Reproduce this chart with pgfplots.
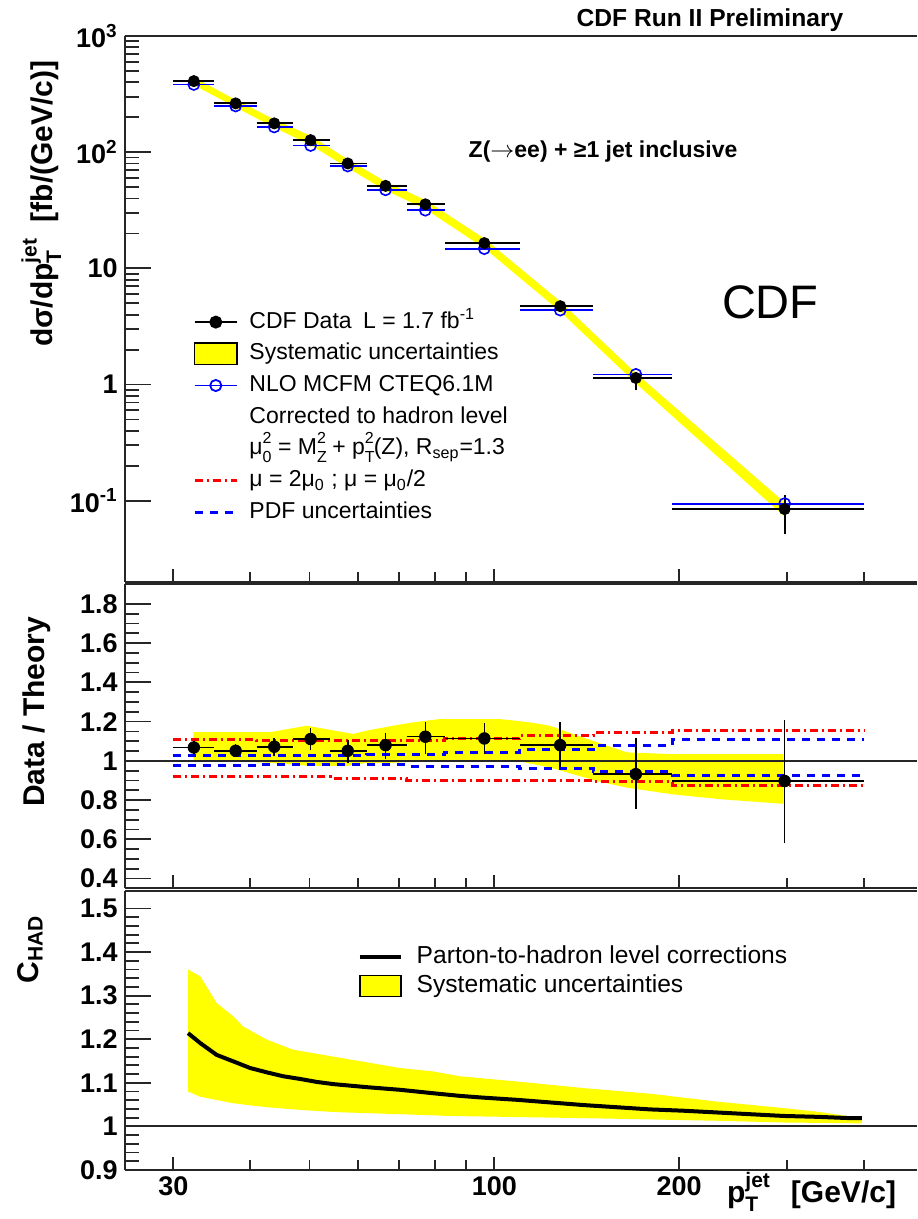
\documentclass[border=0pt]{standalone}
\usepackage{pgfplots}
\pgfplotsset{compat=1.18}
\usepackage{fontspec}
\setmainfont{Liberation Sans}
\definecolor{ryellow}{RGB}{255,255,0}
\definecolor{rred}{RGB}{255,0,0}
\definecolor{rblue}{RGB}{0,0,255}
\newcommand{\spsb}[3]{#1\rlap{\raisebox{-0.3em}{\fontsize{10.5}{0}\selectfont #3}}\raisebox{0.52em}{\fontsize{10.5}{0}\selectfont #2}}
\newcommand{\spsl}[3]{#1\rlap{\raisebox{-0.32em}{\fontsize{8}{0}\selectfont #3}}\raisebox{0.48em}{\fontsize{8}{0}\selectfont #2}}

\pgfplotsset{
  legend image code/.code={\draw[mark repeat=2,mark phase=2,#1] plot coordinates {(0pt,0pt) (10.6pt,0pt) (21.2pt,0pt)};},
  mybox legend/.style={legend image code/.code={\draw[##1] (0pt,-5.4pt) rectangle (21.2pt,5.4pt);}},
  mybox2 legend/.style={legend image code/.code={\draw[##1] (0pt,-5.25pt) rectangle (20.5pt,5.25pt);}},
  myline legend/.style={legend image code/.code={\draw[##1] (0pt,0pt) -- (20.5pt,0pt);}},
  every axis/.append style={
    scale only axis, width=396.15pt,
    xmin=25, xmax=487.9,
    axis y line*=left,
    axis line style={-, line width=1pt, black!85},
    xtick={30,100,200}, minor xtick={40,50,60,70,80,90,300,400},
    xtick pos=left, ytick pos=left, tick align=inside,
    major tick length=13pt, minor tick length=7pt,
    xtick style={/pgfplots/major tick length=6.5pt, /pgfplots/minor tick length=5pt},
    tick style={black!85, line width=0.9pt},
    tick label style={font=\bfseries\fontsize{13.5}{16}\selectfont},
    every axis label/.append style={font=\bfseries\fontsize{15}{18}\selectfont, inner sep=0pt},
    clip=false,
    unbounded coords=jump,
  },
}

\begin{document}
\begin{tikzpicture}
\path[use as bounding box] (0,0) rectangle (458.5pt,-609.5pt);

% ---------------- top panel ----------------
\begin{axis}[xmode=log, ymode=log, at={(62.35pt,-18pt)}, anchor=north west, height=273pt,
  ymin=0.02, ymax=1000,
  ytick={0.1,1,10,100,1000},
  yticklabels={10\textsuperscript{-1},1,10,10\textsuperscript{2},10\textsuperscript{3}},
  xticklabels={},
  ylabel={dσ/d\spsb{p}{jet}{T}\hspace{0.55em}[fb/(GeV/c)]},
  ylabel style={at={(axis description cs:-0.131,0.956)}, anchor=north east},
  legend style={at={(axis description cs:0.0858,0.4987)}, anchor=north west, draw=none, fill=none,
    inner sep=0pt, row sep=3.85pt, column sep=5.5pt, font=\fontsize{11.5}{13.8}\selectfont,
    nodes={inner sep=0pt, text height=9pt, text depth=3pt}},
  legend cell align=left,
]
% systematic band
\addplot[fill=ryellow, draw=none, forget plot] coordinates {
 (32.4,439.7) (37.9,282.7) (43.8,191.2) (50.2,138.4) (57.7,86.8) (66.5,55.7) (77.2,38.8) (96.3,18.07) (128,5.20) (170,1.254) (297,0.0967)
 (297,0.0729) (170,1.026) (128,4.26) (96.3,14.93) (77.2,32.4) (66.5,46.9) (57.7,73.2) (50.2,115.6) (43.8,162.8) (37.9,243.3) (32.4,378.3)};
% theory: bin widths and points
\addplot[rblue, line width=0.9pt, forget plot] coordinates {
 (30,383) (35,383) (32,nan) (35,250) (41,250) (38,nan) (41,165) (47,165) (44,nan) (47,114.3) (54,114.3) (50,nan)
 (54,76.1) (62,76.1) (58,nan) (62,47.5) (72,47.5) (66,nan) (72,31.7) (83,31.7) (77,nan) (83,14.8) (110,14.8) (96,nan)
 (110,4.38) (145,4.38) (128,nan) (145,1.223) (195,1.223) (170,nan) (195,0.0945) (400,0.0945)};
\addplot[rblue, only marks, mark=o, mark size=2.8pt, mark options={line width=0.8pt}, forget plot] coordinates {
 (32.4,383) (37.9,250) (43.8,165) (50.2,114.3) (57.7,76.1) (66.5,47.5) (77.2,31.7) (96.3,14.8) (128,4.38) (170,1.223) (297,0.0945)};
% data: bin widths, error bars, points
\addplot[black, line width=0.9pt, forget plot] coordinates {
 (30,409) (35,409) (32,nan) (35,263) (41,263) (38,nan) (41,177) (47,177) (44,nan) (47,127) (54,127) (50,nan)
 (54,80) (62,80) (58,nan) (62,51.3) (72,51.3) (66,nan) (72,35.6) (83,35.6) (77,nan) (83,16.5) (110,16.5) (96,nan)
 (110,4.73) (145,4.73) (128,nan) (145,1.14) (195,1.14) (170,nan) (195,0.0848) (400,0.0848)};
\addplot[black, line width=0.9pt, forget plot] coordinates {
 (32.4,395.5) (32.4,422.5) (32.4,nan) (37.9,256.7) (37.9,271.8) (37.9,nan) (43.8,169.4) (43.8,184.3) (43.8,nan)
 (50.2,120.6) (50.2,133.5) (50.2,nan) (57.7,75.4) (57.7,84.2) (57.7,nan) (66.5,47.9) (66.5,54.2) (66.5,nan)
 (77.2,32.8) (77.2,38.0) (77.2,nan) (96.3,15.32) (96.3,17.67) (96.3,nan) (128,4.23) (128,5.26) (128,nan)
 (170,0.89) (170,1.29) (170,nan) (297,0.0518) (297,0.1118)};
\addplot[black, only marks, mark=*, mark size=2.8pt, forget plot] coordinates {
 (32.4,409) (37.9,263) (43.8,177) (50.2,127) (57.7,80) (66.5,51.3) (77.2,35.6) (96.3,16.5) (128,4.73) (170,1.14) (297,0.0848)};

\addlegendimage{black, line width=0.9pt, mark=*, mark size=2.8pt}
\addlegendentry{CDF Data\enspace L = 1.7 fb\textsuperscript{-1}}
\addlegendimage{mybox legend, fill=ryellow, draw=black, line width=0.8pt}
\addlegendentry{Systematic uncertainties}
\addlegendimage{rblue, line width=0.9pt, mark=o, mark size=2.8pt}
\addlegendentry{NLO MCFM CTEQ6.1M}
\addlegendimage{empty legend}
\addlegendentry{Corrected to hadron level}
\addlegendimage{empty legend}
\addlegendentry{\spsl{μ}{2}{0} = \spsl{M}{2}{Z} + \spsl{p}{2}{T}(Z), R\textsubscript{sep}=1.3}
\addlegendimage{rred, line width=1.5pt, dash pattern=on 4pt off 2pt on 1pt off 2pt}
\addlegendentry{μ = 2μ\textsubscript{0} ; μ = μ\textsubscript{0}/2}
\addlegendimage{rblue, line width=1.5pt, dash pattern=on 4pt off 3.5pt}
\addlegendentry{PDF uncertainties}

\node[anchor=base, font=\bfseries\fontsize{12.3}{14}\selectfont] at (axis description cs:0.7387,1.017) {CDF Run II Preliminary};
\node[anchor=base west, font=\bfseries\fontsize{11.5}{14}\selectfont] at (axis description cs:0.4253,0.7766) {Z($\rightarrow$ee) + ≥1 jet inclusive};
\node[anchor=base west, font=\fontsize{23.5}{28}\selectfont] at (axis description cs:0.745,0.4822) {CDF};
\end{axis}

% ---------------- ratio panel ----------------
\begin{axis}[xmode=log, at={(62.35pt,-292.15pt)}, anchor=north west, height=152pt,
  ymin=0.35, ymax=1.9,
  ytick={0.4,0.6,0.8,1,1.2,1.4,1.6,1.8},
  yticklabels={0.4,0.6,0.8,1,1.2,1.4,1.6,1.8},
  minor y tick num=3,
  xticklabels={},
  ylabel={Data / Theory},
  ylabel style={at={(axis description cs:-0.1287,0.581)}, anchor=north},
]
\addplot[fill=ryellow, draw=none, forget plot] coordinates {
 (32.35,1.146) (43.1,1.146) (49.5,1.179) (58.9,1.137) (62.0,1.154) (68.4,1.179) (73.7,1.196) (81.6,1.213) (102.1,1.213) (114.3,1.196) (123.2,1.179) (134.3,1.137) (152.6,1.077) (164.5,1.043) (195.4,1.034) (295.2,1.034)
 (295.2,0.781) (235.8,0.803) (195.4,0.829) (164.5,0.863) (146.9,0.897) (134.3,0.932) (123.2,0.966) (108.8,1.0) (81.6,1.0) (68.4,0.99) (62.0,0.99) (57.5,0.974) (50.1,0.974) (43.1,0.99) (32.35,1.005)};
\addplot[black!85, line width=1pt, forget plot] coordinates {(25,1) (487.9,1)};
\addplot[rred, line width=1.5pt, const plot, dash pattern=on 4pt off 2pt on 1pt off 2pt, forget plot] coordinates {
 (30,1.111) (41,1.103) (83,1.112) (110,1.128) (145,1.142) (195,1.154) (400,1.154)};
\addplot[rred, line width=1.5pt, const plot, dash pattern=on 4pt off 2pt on 1pt off 2pt, forget plot] coordinates {
 (30,0.918) (54,0.909) (72,0.901) (145,0.894) (195,0.875) (400,0.875)};
\addplot[rblue, line width=1.5pt, const plot, dash pattern=on 4pt off 3.5pt, forget plot] coordinates {
 (30,1.026) (62,1.034) (83,1.043) (110,1.060) (145,1.077) (195,1.111) (400,1.111)};
\addplot[rblue, line width=1.5pt, const plot, dash pattern=on 4pt off 3.5pt, forget plot] coordinates {
 (30,0.974) (41,0.979) (72,0.971) (110,0.961) (145,0.944) (195,0.927) (400,0.927)};
\addplot[black, line width=0.8pt, forget plot] coordinates {
 (30,1.068) (35,1.068) (32,nan) (35,1.051) (41,1.051) (38,nan) (41,1.072) (47,1.072) (44,nan) (47,1.111) (54,1.111) (50,nan)
 (54,1.051) (62,1.051) (58,nan) (62,1.080) (72,1.080) (66,nan) (72,1.123) (83,1.123) (77,nan) (83,1.114) (110,1.114) (96,nan)
 (110,1.080) (145,1.080) (128,nan) (145,0.932) (195,0.932) (170,nan) (195,0.897) (400,0.897)};
\addplot[black, line width=0.8pt, forget plot] coordinates {
 (32.4,1.034) (32.4,1.103) (32.4,nan) (37.9,1.026) (37.9,1.086) (37.9,nan) (43.8,1.026) (43.8,1.116) (43.8,nan)
 (50.2,1.055) (50.2,1.168) (50.2,nan) (57.7,0.990) (57.7,1.106) (57.7,nan) (66.5,1.009) (66.5,1.140) (66.5,nan)
 (77.2,1.034) (77.2,1.200) (77.2,nan) (96.3,1.034) (96.3,1.193) (96.3,nan) (128,0.966) (128,1.200) (128,nan)
 (170,0.755) (170,1.114) (170,nan) (297,0.581) (297,1.210)};
\addplot[black, only marks, mark=*, mark size=2.9pt, forget plot] coordinates {
 (32.4,1.068) (37.9,1.051) (43.8,1.072) (50.2,1.111) (57.7,1.051) (66.5,1.080) (77.2,1.123) (96.3,1.114) (128,1.080) (170,0.932) (297,0.897)};
\end{axis}

% ---------------- C_HAD panel ----------------
\begin{axis}[xmode=log, at={(62.35pt,-445.5pt)}, anchor=north west, height=139.5pt,
  ymin=0.9, ymax=1.54,
  ytick={0.9,1,1.1,1.2,1.3,1.4,1.5},
  yticklabels={0.9,1,1.1,1.2,1.3,1.4,1.5},
  minor y tick num=4,
  xticklabels={30,100,200},
  ylabel={C\textsubscript{HAD}},
  ylabel style={at={(axis description cs:-0.1363,0.914)}, anchor=north east},
  xlabel={\spsb{p}{jet}{T}\hspace{0.7em}[GeV/c]},
  xlabel style={at={(axis description cs:0.974,-0.118)}, anchor=base east},
  legend style={at={(axis description cs:0.2936,0.811)}, anchor=north west, draw=none, fill=none,
    inner sep=0pt, row sep=2.15pt, column sep=7pt, font=\fontsize{12.3}{14.5}\selectfont,
    nodes={inner sep=0pt, text height=9.5pt, text depth=3pt}},
  legend cell align=left,
]
\addplot[fill=ryellow, draw=none, forget plot] coordinates {
 (31.7,1.36) (33.2,1.344) (35.3,1.283) (37.6,1.252) (39.0,1.229) (42.6,1.199) (47.0,1.176) (54.7,1.160) (62.0,1.147) (70.2,1.134) (79.6,1.126) (87.9,1.115) (108.8,1.103) (139.6,1.088) (179.3,1.075) (230.2,1.057) (295.5,1.042) (335,1.034) (379.6,1.023) (396.6,1.015)
 (396.6,1.007) (295.5,1.009) (230.2,1.013) (139.6,1.019) (84.7,1.024) (70.2,1.028) (54.7,1.033) (48.2,1.038) (42.6,1.044) (37.6,1.053) (33.2,1.068) (31.7,1.080)};
\addplot[black!85, line width=1pt, forget plot] coordinates {(25,1) (487.9,1)};
\addplot[black, line width=2pt, forget plot] coordinates {
 (31.7,1.214) (33.2,1.191) (35.3,1.164) (37.6,1.149) (40.0,1.134) (42.6,1.124) (45.3,1.115) (48.2,1.109) (51.4,1.102)
 (54.7,1.097) (62.0,1.090) (70.2,1.084) (79.6,1.076) (87.9,1.070) (95.9,1.066) (108.8,1.061) (123.2,1.055) (139.6,1.049)
 (158.2,1.044) (179.3,1.039) (203.1,1.036) (230.2,1.032) (260.9,1.028) (295.5,1.024) (335,1.022) (379.6,1.019) (396.6,1.019)};

\addlegendimage{myline legend, black, line width=2pt}
\addlegendentry{Parton-to-hadron level corrections}
\addlegendimage{mybox2 legend, fill=ryellow, draw=black, line width=0.8pt}
\addlegendentry{Systematic uncertainties}
\end{axis}
\end{tikzpicture}
\end{document}
